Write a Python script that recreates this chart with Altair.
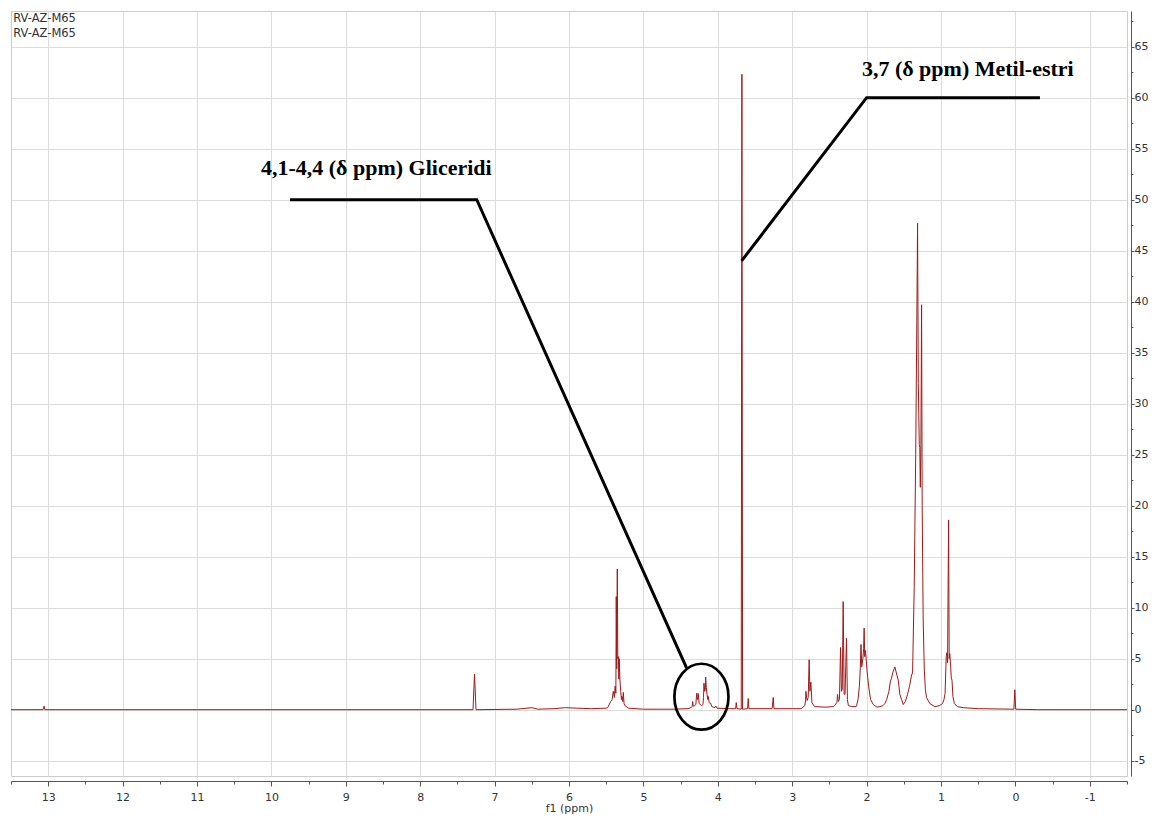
import altair as alt
import pandas as pd

# ---------------- data ----------------
# (chemical shift in ppm, intensity)
baseline_left = [(13.5, 0.0), (13.07, 0.0), (13.055, 0.35), (13.045, 0.0),
                 (7.29, 0.0), (7.27, 3.5), (7.25, 0.0), (6.7, 0.05), (6.5, 0.2),
                 (6.42, 0.05), (6.2, 0.1), (6.05, 0.2), (5.9, 0.15), (5.7, 0.1),
                 (5.5, 0.15)]
olefinic = [(5.48, 0.2), (5.44, 0.8), (5.42, 1.0), (5.405, 1.8), (5.39, 1.2),
            (5.38, 2.3), (5.37, 1.6), (5.365, 11.1), (5.358, 4.0), (5.351, 13.8),
            (5.344, 5.0), (5.336, 5.2), (5.33, 3.0), (5.325, 5.0), (5.315, 2.9),
            (5.305, 1.8), (5.295, 1.0), (5.287, 1.3), (5.278, 0.8), (5.27, 1.7),
            (5.26, 0.6), (5.248, 0.4), (5.2, 0.15), (5.0, 0.05), (4.6, 0.05),
            (4.4, 0.1)]
glycerides = [(4.36, 0.2), (4.345, 0.3), (4.338, 0.8), (4.33, 0.35), (4.31, 0.4),
              (4.295, 0.5), (4.284, 1.6), (4.275, 1.0), (4.268, 1.2), (4.263, 1.6),
              (4.25, 0.6), (4.22, 0.4), (4.2, 0.5), (4.192, 1.2), (4.186, 2.6),
              (4.175, 1.8), (4.168, 2.0), (4.163, 3.2), (4.155, 2.2), (4.145, 1.5),
              (4.135, 1.0), (4.129, 1.3), (4.115, 0.7), (4.105, 0.6), (4.097, 0.65),
              (4.08, 0.3), (4.04, 0.2), (4.025, 0.35), (4.01, 0.15), (3.85, 0.1)]
methyl_ester = [(3.76, 0.1), (3.752, 0.7), (3.742, 0.1), (3.685, 0.05),
                (3.676, 62.3), (3.667, 0.05), (3.6, 0.1), (3.591, 1.1),
                (3.582, 0.1), (3.27, 0.1), (3.255, 1.2), (3.245, 0.1), (3.0, 0.1)]
region_275 = [(2.88, 0.1), (2.83, 0.4), (2.82, 1.0), (2.816, 1.8), (2.8, 0.9),
              (2.785, 1.2), (2.772, 4.9), (2.762, 1.8), (2.749, 2.7), (2.735, 0.7),
              (2.7, 0.3), (2.55, 0.25), (2.45, 0.3)]
region_23 = [(2.43, 0.4), (2.40, 0.7), (2.39, 1.5), (2.38, 0.8), (2.365, 1.0),
             (2.35, 6.1), (2.338, 1.8), (2.327, 2.0), (2.315, 10.6), (2.302, 1.5),
             (2.29, 1.5), (2.27, 7.0), (2.258, 1.0), (2.245, 0.4), (2.2, 0.3),
             (2.14, 0.3)]
region_20 = [(2.135, 0.4), (2.115, 1.0), (2.097, 2.3), (2.085, 4.0), (2.075, 6.4),
             (2.065, 4.2), (2.05, 5.0), (2.04, 6.0), (2.033, 8.0), (2.025, 5.2),
             (2.015, 5.8), (2.006, 5.0), (1.995, 3.9), (1.973, 2.3), (1.946, 1.0),
             (1.91, 0.5), (1.86, 0.25), (1.82, 0.3)]
region_16 = [(1.78, 0.4), (1.755, 0.6), (1.73, 1.0), (1.70, 1.8), (1.68, 2.8),
             (1.665, 3.1), (1.645, 3.7), (1.62, 4.2), (1.60, 3.6), (1.575, 2.9),
             (1.553, 1.5), (1.53, 1.0), (1.508, 0.5), (1.48, 0.8)]
region_13 = [(1.45, 1.5), (1.42, 2.4), (1.396, 3.4), (1.382, 3.6), (1.36, 12.0),
             (1.34, 25.0), (1.325, 38.0), (1.315, 47.7), (1.305, 32.0), (1.292, 26.0),
             (1.285, 25.7), (1.278, 21.8), (1.27, 26.0), (1.261, 39.7), (1.253, 20.0),
             (1.24, 9.0), (1.225, 4.0), (1.21, 2.0), (1.195, 1.2), (1.15, 0.6),
             (1.083, 0.3), (1.02, 0.4)]
region_09 = [(0.98, 0.6), (0.96, 1.0), (0.945, 1.6), (0.93, 5.2), (0.92, 5.6),
             (0.912, 4.6), (0.898, 18.6), (0.89, 5.0), (0.882, 5.5), (0.872, 4.5),
             (0.862, 3.1), (0.852, 2.9), (0.84, 1.3), (0.82, 0.6), (0.78, 0.3),
             (0.7, 0.2), (0.5, 0.1)]
baseline_right = [(0.02, 0.05), (0.008, 1.95), (-0.004, 0.05), (-0.3, 0.0), (-1.5, 0.0)]

# axis tick values
x_major = [13, 12, 11, 10, 9, 8, 7, 6, 5, 4, 3, 2, 1, 0, -1]
x_minor = [13.5, 12.5, 11.5, 10.5, 9.5, 8.5, 7.5, 6.5, 5.5, 4.5, 3.5, 2.5, 1.5, 0.5, -0.5, -1.5]
y_major = [-5, 0, 5, 10, 15, 20, 25, 30, 35, 40, 45, 50, 55, 60, 65]
y_minor = [-2.5, 2.5, 7.5, 12.5, 17.5, 22.5, 27.5, 32.5, 37.5, 42.5, 47.5, 52.5, 57.5, 62.5, 67.5]

# annotations
ann_metil = [(-0.33, 60.0), (2.0, 60.0), (3.68, 44.0)]
ann_glic = [(9.75, 50.0), (7.24, 50.0), (4.42, 4.1)]
ann_texts = ["3,7 (δ ppm) Metil-estri", "4,1-4,4 (δ ppm) Gliceridi"]
ann_text_pos = [(0.64, 62.8), (8.59, 53.1)]
circle_pos = [(4.22, 1.27)]
sample_labels = ["RV-AZ-M65", "RV-AZ-M65"]
sample_pos = [(13.47, 67.75), (13.47, 66.2)]

# ---------------- tables ----------------
spectrum = (baseline_left + olefinic + glycerides + methyl_ester + region_275 +
            region_23 + region_20 + region_16 + region_13 + region_09 + baseline_right)
spec_df = pd.DataFrame(spectrum, columns=["ppm", "val"])

ann_rows = []
for g, pts in (("metil", ann_metil), ("glic", ann_glic)):
    for i, (p, v) in enumerate(pts):
        ann_rows.append({"ppm": p, "val": v, "grp": g, "seq": i})
ann_df = pd.DataFrame(ann_rows)

txt_df = pd.DataFrame({"ppm": [p for p, _ in ann_text_pos],
                       "val": [v for _, v in ann_text_pos],
                       "label": ann_texts})
circ_df = pd.DataFrame(circle_pos, columns=["ppm", "val"])
rv_df = pd.DataFrame({"ppm": [p for p, _ in sample_pos],
                      "val": [v for _, v in sample_pos],
                      "label": sample_labels})

# ---------------- encodings ----------------
x_vals = sorted(x_major + x_minor, reverse=True)
y_vals = sorted(y_major + y_minor)

x_scale = alt.Scale(domain=[-1.5, 13.5], reverse=True, nice=False, zero=False)
y_scale = alt.Scale(domain=[-6.5, 68.5], nice=False, zero=False)

x_axis = alt.Axis(
    orient="bottom", values=x_vals, offset=5, title="f1 (ppm)",
    labelExpr="datum.value % 1 === 0 ? '' + datum.value : ''",
    tickSize={"condition": {"test": "datum.value % 1 === 0", "value": 5}, "value": 3},
    gridOpacity={"condition": {"test": "datum.value % 1 === 0", "value": 1}, "value": 0},
    labelPadding=5, titlePadding=0, titleFontWeight="normal", titleFontSize=11,
    titleFont="DejaVu Sans", titleColor="#333333", labelFlush=False, labelOverlap=False,
)
y_axis = alt.Axis(
    orient="right", values=y_vals, offset=4, title=None,
    labelExpr="datum.value % 5 === 0 ? '' + datum.value : ''",
    tickSize={"condition": {"test": "datum.value % 5 === 0", "value": 3}, "value": 2},
    gridOpacity={"condition": {"test": "datum.value % 5 === 0", "value": 1}, "value": 0},
    labelPadding=0, labelFlush=False, labelOverlap=False,
)

X = alt.X("ppm:Q", scale=x_scale, axis=x_axis)
Y = alt.Y("val:Q", scale=y_scale, axis=y_axis)

spec_layer = alt.Chart(spec_df).mark_line(
    color="#9b1b1b", strokeWidth=1, clip=True
).encode(x=X, y=Y)

ann_layer = alt.Chart(ann_df).mark_line(
    color="black", strokeWidth=3, strokeJoin="miter"
).encode(x=X, y=Y, detail="grp:N", order="seq:Q")

ellipse_path = "M-0.82,0 A0.82,1 0 1,1 0.82,0 A0.82,1 0 1,1 -0.82,0 Z"
circ_layer = alt.Chart(circ_df).mark_point(
    shape=ellipse_path, size=4350, filled=False, stroke="black",
    strokeWidth=2.7, opacity=1
).encode(x=X, y=Y)

txt_layer = alt.Chart(txt_df).mark_text(
    font="Liberation Serif", fontWeight="bold", fontSize=22, color="black",
    align="center", baseline="middle"
).encode(x=X, y=Y, text="label:N")

rv_layer = alt.Chart(rv_df).mark_text(
    font="DejaVu Sans", fontSize=11.5, color="#333333", align="left",
    baseline="middle"
).encode(x=X, y=Y, text="label:N")

chart = alt.layer(spec_layer, ann_layer, circ_layer, txt_layer, rv_layer).properties(
    width=1116, height=765,
    autosize=alt.AutoSizeParams(type="none"),
    padding={"left": 3, "top": 3, "right": 21, "bottom": 38},
    background="white",
).configure_view(
    stroke="#cccccc", strokeWidth=1
).configure_axis(
    domainColor="#555555", tickColor="#555555", labelColor="#333333",
    labelFont="DejaVu Sans", labelFontSize=11, gridColor="#dcdcdc", gridWidth=1,
    domainWidth=1, tickWidth=1,
)

chart.save("out.html", embed_options={"renderer": "svg", "actions": False})
